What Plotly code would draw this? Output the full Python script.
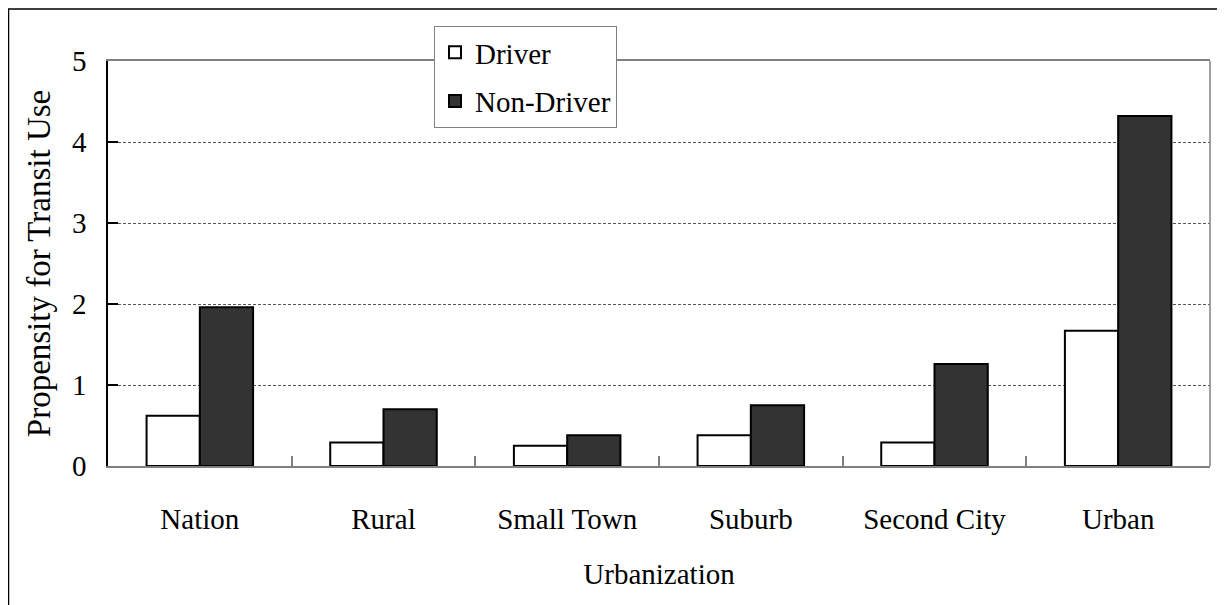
import plotly.graph_objects as go

categories = ["Nation", "Rural", "Small Town", "Suburb", "Second City", "Urban"]
driver = [0.62, 0.29, 0.25, 0.38, 0.29, 1.67]
non_driver = [1.96, 0.70, 0.38, 0.75, 1.26, 4.32]
y_ticks = [0, 1, 2, 3, 4, 5]

OFF = 8  # page body margin
W, H = 1225 - OFF, 605 - OFF
# plot area in page pixels: x 108..1210, y 61..466
L, T = 108 - OFF, 61 - OFF
R = W - (1210 - OFF)
B = H - (466 - OFF)
pw = W - L - R
ph = H - T - B

def px_x(p):
    return (p - OFF - L) / pw

def px_y(p):
    return (H - B - (p - OFF)) / ph

FONT = "Liberation Serif, Times New Roman, serif"

fig = go.Figure()
fig.add_trace(go.Bar(
    x=categories, y=driver, name="Driver", legendgroup="a",
    marker=dict(color="white", line=dict(color="black", width=2)),
))
fig.add_trace(go.Bar(
    x=categories, y=non_driver, name="Non-Driver", legendgroup="b",
    marker=dict(color="#333333", line=dict(color="black", width=2)),
))

fig.update_layout(
    width=W, height=H,
    margin=dict(l=L, r=R, t=T, b=B, autoexpand=False),
    paper_bgcolor="white", plot_bgcolor="white",
    font=dict(family=FONT, size=29, color="black"),
    barmode="group", bargap=0.42, bargroupgap=0,
    showlegend=True,
    legend=dict(
        x=px_x(434), y=px_y(26), xanchor="left", yanchor="top",
        bgcolor="white", bordercolor="#808080", borderwidth=1,
        font=dict(family=FONT, size=29, color="black"),
        traceorder="grouped", tracegroupgap=8,
    ),
    xaxis=dict(
        type="category", automargin=False,
        showline=True, linecolor="#808080", linewidth=1.5, mirror=True,
        ticks="inside", tickson="boundaries", ticklen=10, tickcolor="#808080", tickwidth=1.5,
        showgrid=False,
        tickfont=dict(family=FONT, size=29, color="black"),
        ticklabelstandoff=26,
        title=dict(text="Urbanization", font=dict(family=FONT, size=29, color="black"), standoff=30),
    ),
    yaxis=dict(
        range=[0, 5], tickvals=y_ticks, ticktext=[str(v) for v in y_ticks], automargin=False,
        showline=True, linecolor="black", linewidth=1.5,
        ticks="inside", ticklen=10, tickcolor="black", tickwidth=1.5,
        showgrid=True, gridcolor="#555555", gridwidth=1, griddash="3px,2px",
        zeroline=False,
        tickfont=dict(family=FONT, size=29, color="black"),
        ticklabelstandoff=14,
        title=dict(text="Propensity for Transit Use", font=dict(family=FONT, size=33, color="black"), standoff=11),
    ),
    shapes=[
        dict(type="line", xref="paper", yref="paper", x0=1, x1=1, y0=0, y1=1,
             line=dict(color="#808080", width=1.5)),
        dict(type="rect", xref="paper", yref="paper",
             x0=px_x(8.5), x1=px_x(1240), y0=px_y(9), y1=px_y(640),
             line=dict(color="black", width=1.5), fillcolor="rgba(0,0,0,0)", layer="below"),
    ],
)

fig.write_html("out.html")
